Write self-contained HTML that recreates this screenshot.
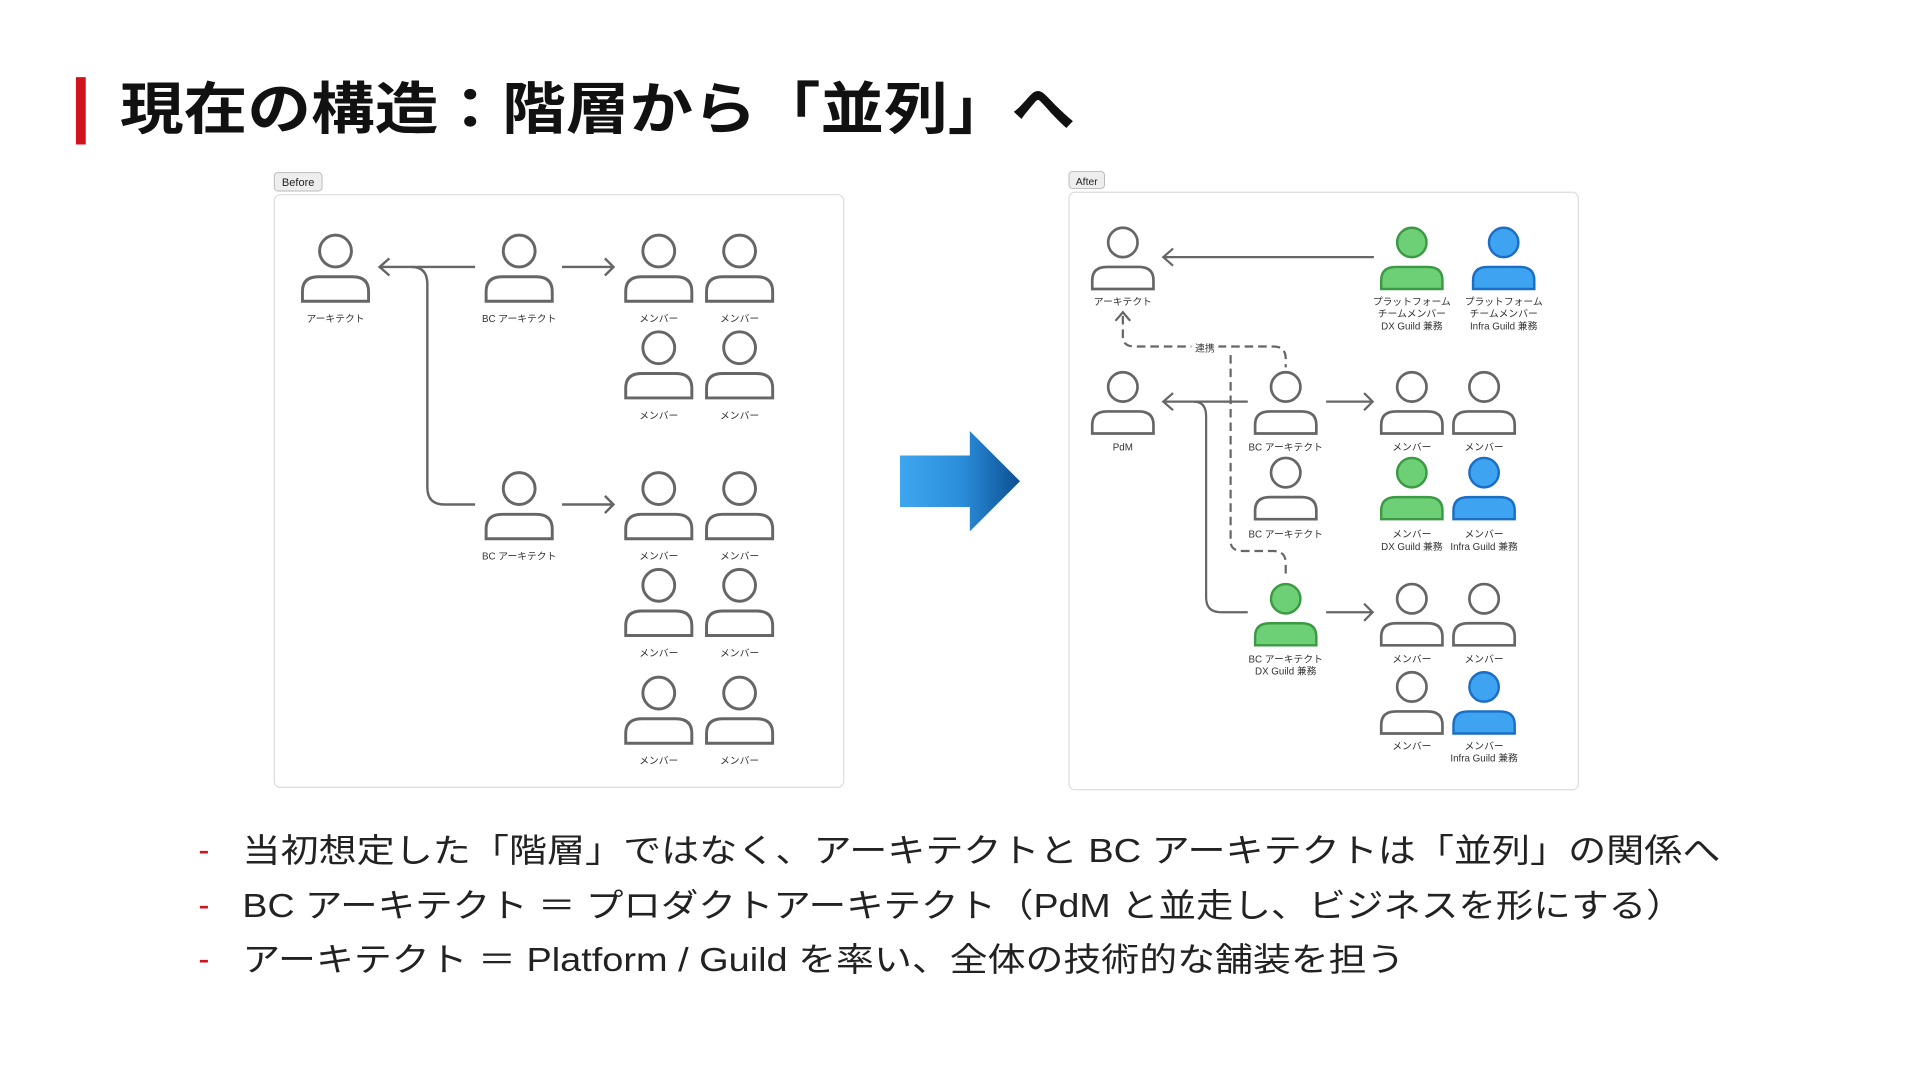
<!DOCTYPE html>
<html><head><meta charset="utf-8"><style>
html,body{margin:0;padding:0;background:#fff;width:1920px;height:1080px;overflow:hidden}
svg{display:block}
text{font-family:"Liberation Sans","Noto Sans CJK JP",sans-serif}
</style></head><body>
<svg width="1920" height="1080" viewBox="0 0 1568 882" xmlns="http://www.w3.org/2000/svg">
<defs>
<linearGradient id="ag" x1="0" x2="1" y1="0" y2="0"><stop offset="0" stop-color="#3ea6ee"/><stop offset="0.5" stop-color="#2b8fdc"/><stop offset="1" stop-color="#0d4f92"/></linearGradient>
<g id="pw"><circle cx="0" cy="0" r="13" fill="#fff" stroke="#666" stroke-width="2.4"/><path d="M-27,41 V33 Q-27,21 -14,21 H14 Q27,21 27,33 V41 Z" fill="#fff" stroke="#666" stroke-width="2.4"/></g>
<g id="pg"><circle cx="0" cy="0" r="12" fill="#6dd076" stroke="#3b9a43" stroke-width="2"/><path d="M-25,38 V31 Q-25,20 -13,20 H13 Q25,20 25,31 V38 Z" fill="#6dd076" stroke="#3b9a43" stroke-width="2"/></g>
<g id="pb"><circle cx="0" cy="0" r="12" fill="#3ea4f2" stroke="#1a6fc4" stroke-width="2"/><path d="M-25,38 V31 Q-25,20 -13,20 H13 Q25,20 25,31 V38 Z" fill="#3ea4f2" stroke="#1a6fc4" stroke-width="2"/></g>
<g id="pa"><circle cx="0" cy="0" r="12" fill="#fff" stroke="#666" stroke-width="2.2"/><path d="M-25,38 V31 Q-25,20 -13,20 H13 Q25,20 25,31 V38 Z" fill="#fff" stroke="#666" stroke-width="2.2"/></g>
</defs>

<!-- title -->
<rect x="62" y="63" width="8" height="55" fill="#d0121b"/>
<text x="98" y="105" font-size="46" font-weight="bold" fill="#111" textLength="780" lengthAdjust="spacingAndGlyphs">現在の構造：階層から「並列」へ</text>

<!-- BEFORE -->
<rect x="224" y="141" width="39" height="15" rx="3" fill="#eee" stroke="#bbb" stroke-width="0.8"/>
<text x="243.5" y="152" font-size="9" text-anchor="middle" fill="#222">Before</text>
<rect x="224" y="159" width="465" height="484" rx="5" fill="#fff" stroke="#ddd" stroke-width="1"/>
<g fill="none" stroke="#666" stroke-width="2">
<path d="M388,218 H310 M318,211 L310,218 L318,225"/>
<path d="M336,218 Q349,218 349,232 V398 Q349,412 363,412 H388"/>
<path d="M459,218 H501 M494,211 L501,218 L494,225"/>
<path d="M459,412 H501 M494,405 L501,412 L494,419"/>
</g>
<g font-size="8" fill="#333" text-anchor="middle">
<use href="#pw" x="274" y="205"/><text x="274" y="263">アーキテクト</text>
<use href="#pw" x="424" y="205"/><text x="424" y="263">BC アーキテクト</text>
<use href="#pw" x="424" y="399"/><text x="424" y="457">BC アーキテクト</text>
<use href="#pw" x="538" y="205"/><text x="538" y="263">メンバー</text>
<use href="#pw" x="604" y="205"/><text x="604" y="263">メンバー</text>
<use href="#pw" x="538" y="284"/><text x="538" y="342">メンバー</text>
<use href="#pw" x="604" y="284"/><text x="604" y="342">メンバー</text>
<use href="#pw" x="538" y="399"/><text x="538" y="457">メンバー</text>
<use href="#pw" x="604" y="399"/><text x="604" y="457">メンバー</text>
<use href="#pw" x="538" y="478"/><text x="538" y="536">メンバー</text>
<use href="#pw" x="604" y="478"/><text x="604" y="536">メンバー</text>
<use href="#pw" x="538" y="566"/><text x="538" y="624">メンバー</text>
<use href="#pw" x="604" y="566"/><text x="604" y="624">メンバー</text>
</g>

<!-- big arrow -->
<path d="M735,372 H792 V352 L833,393 L792,434 V414 H735 Z" fill="url(#ag)"/>

<!-- AFTER -->
<rect x="873" y="140" width="29" height="14" rx="3" fill="#eee" stroke="#bbb" stroke-width="0.8"/>
<text x="887.5" y="151" font-size="8.5" text-anchor="middle" fill="#222">After</text>
<rect x="873" y="157" width="416" height="488" rx="5" fill="#fff" stroke="#ddd" stroke-width="1"/>
<g fill="none" stroke="#666" stroke-width="1.8">
<path d="M1122,210 H950 M958,203 L950,210 L958,217"/>
<path d="M1019,328 H950 M958,321 L950,328 L958,335"/>
<path d="M975,328 Q985,328 985,340 V488 Q985,500 997,500 H1019"/>
<path d="M1083,328 H1121 M1114,321 L1121,328 L1114,335"/>
<path d="M1083,500 H1121 M1114,493 L1121,500 L1114,507"/>
<path d="M911,262 L917,255 L923,262"/>
</g>
<g fill="none" stroke="#666" stroke-width="1.8" stroke-dasharray="7,4">
<path d="M917,258 V275 Q917,283 927,283 H1040 Q1050,283 1050,293 V300"/>
<path d="M1005,290 V442 Q1005,450 1015,450 H1040 Q1050,450 1050,460 V470"/>
</g>
<rect x="973" y="277" width="22" height="12" fill="#fff"/>
<text x="984" y="287" font-size="8" text-anchor="middle" fill="#333">連携</text>
<g font-size="8" fill="#333" text-anchor="middle">
<use href="#pa" x="917" y="198"/><text x="917" y="249">アーキテクト</text>
<use href="#pg" x="1153" y="198"/><text x="1153" y="249">プラットフォーム</text><text x="1153" y="259">チームメンバー</text><text x="1153" y="269">DX Guild 兼務</text>
<use href="#pb" x="1228" y="198"/><text x="1228" y="249">プラットフォーム</text><text x="1228" y="259">チームメンバー</text><text x="1228" y="269">Infra Guild 兼務</text>
<use href="#pa" x="917" y="316"/><text x="917" y="368">PdM</text>
<use href="#pa" x="1050" y="316"/><text x="1050" y="368">BC アーキテクト</text>
<use href="#pa" x="1050" y="386"/><text x="1050" y="439">BC アーキテクト</text>
<use href="#pg" x="1050" y="489"/><text x="1050" y="541">BC アーキテクト</text><text x="1050" y="551">DX Guild 兼務</text>
<use href="#pa" x="1153" y="316"/><text x="1153" y="368">メンバー</text>
<use href="#pa" x="1212" y="316"/><text x="1212" y="368">メンバー</text>
<use href="#pg" x="1153" y="386"/><text x="1153" y="439">メンバー</text><text x="1153" y="449">DX Guild 兼務</text>
<use href="#pb" x="1212" y="386"/><text x="1212" y="439">メンバー</text><text x="1212" y="449">Infra Guild 兼務</text>
<use href="#pa" x="1153" y="489"/><text x="1153" y="541">メンバー</text>
<use href="#pa" x="1212" y="489"/><text x="1212" y="541">メンバー</text>
<use href="#pa" x="1153" y="561"/><text x="1153" y="612">メンバー</text>
<use href="#pb" x="1212" y="561"/><text x="1212" y="612">メンバー</text><text x="1212" y="622">Infra Guild 兼務</text>
</g>

<!-- bullets -->
<g font-size="27" fill="#222">
<text x="162" y="703" fill="#d0121b">-</text>
<text x="198" y="704" textLength="1207" lengthAdjust="spacingAndGlyphs">当初想定した「階層」ではなく、アーキテクトと BC アーキテクトは「並列」の関係へ</text>
<text x="162" y="748" fill="#d0121b">-</text>
<text x="198" y="749" textLength="1177" lengthAdjust="spacingAndGlyphs">BC アーキテクト ＝ プロダクトアーキテクト（PdM と並走し、ビジネスを形にする）</text>
<text x="162" y="792" fill="#d0121b">-</text>
<text x="198" y="793" textLength="949" lengthAdjust="spacingAndGlyphs">アーキテクト ＝ Platform / Guild を率い、全体の技術的な舗装を担う</text>
</g>
</svg>
</body></html>
